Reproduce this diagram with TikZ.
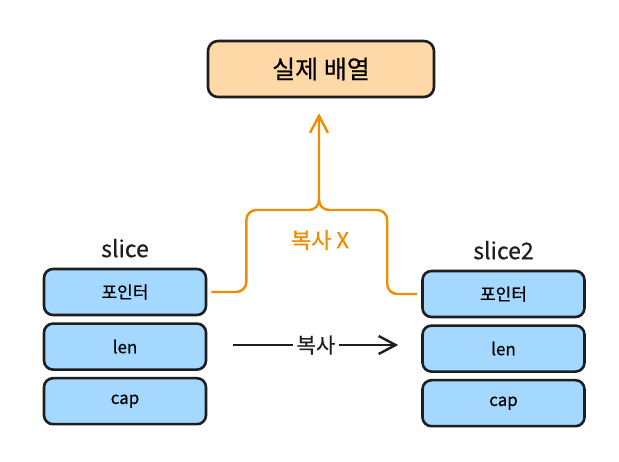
\documentclass[tikz,border=0pt]{standalone}
\usepackage{fontspec}
\setmainfont{Noto Sans CJK KR}[FakeBold=0.6]
\usetikzlibrary{arrows.meta,positioning}

\definecolor{ink}{HTML}{1E1E1E}
\definecolor{fieldblue}{HTML}{A5D8FF}
\definecolor{arrpeach}{HTML}{FFD8A8}
\definecolor{copyorange}{HTML}{F08C00}

\tikzset{
  field/.style={draw=ink, fill=fieldblue, line width=2.6pt, rounded corners=9pt,
    minimum width=162pt, minimum height=46pt, inner sep=0pt,
    font=\fontsize{17}{20}\selectfont},
  arraybox/.style={draw=ink, fill=arrpeach, line width=2.6pt, rounded corners=10pt,
    minimum width=226pt, minimum height=56pt, font=\fontsize{25}{28}\selectfont},
  title/.style={font=\fontsize{23}{26}\selectfont, text=ink, inner sep=0pt},
  copyline/.style={draw=copyorange, line width=2.4pt, rounded corners=10pt},
  tip/.style={-{Straight Barb[length=17pt,width=18pt,line width=2.4pt]}}
}

\begin{document}
\begin{tikzpicture}[x=1pt,y=-1pt]
  \useasboundingbox (0,0) rectangle (619,462);

  % real array
  \node[arraybox] (arr) at (321,69) {실제 배열};

  % slice
  \node[field] (lp) at (125,292) {포인터};
  \node[field, below=6pt of lp] (ll) {len};
  \node[field, below=6pt of ll] (lc) {cap};
  \node[title, above=10pt of lp] (ls) {slice};

  % slice2
  \node[field] (rp) at (503.5,294) {포인터};
  \node[field, below=6pt of rp] (rl) {len};
  \node[field, below=6pt of rl] (rc) {cap};
  \node[title, above=10pt of rp] (rs) {slice2};

  % pointer is shared
  \coordinate (fork) at (319,210);
  \draw[copyline, tip] ([xshift=4pt]lp.east) -- ++(35,0) |- (fork)
    -- ([yshift=-15pt]arr.south -| fork);
  \draw[copyline] ([xshift=-4pt]rp.west) -- ++(-30,0) |- (fork) -- ++(0,-12);
  \node[font=\fontsize{22}{26}\selectfont, text=copyorange] (nocopy) at (320,240) {복사 X};

  % header is copied
  \node[font=\fontsize{21}{24}\selectfont, text=ink, inner sep=3pt] (copy) at (316,345) {복사};
  \draw[ink, line width=2.6pt, shorten <=26pt] (ll.east |- copy) -- (copy.west);
  \draw[ink, line width=2.6pt, tip, shorten >=23pt] (copy.east) -- (copy -| rl.west);
\end{tikzpicture}
\end{document}
